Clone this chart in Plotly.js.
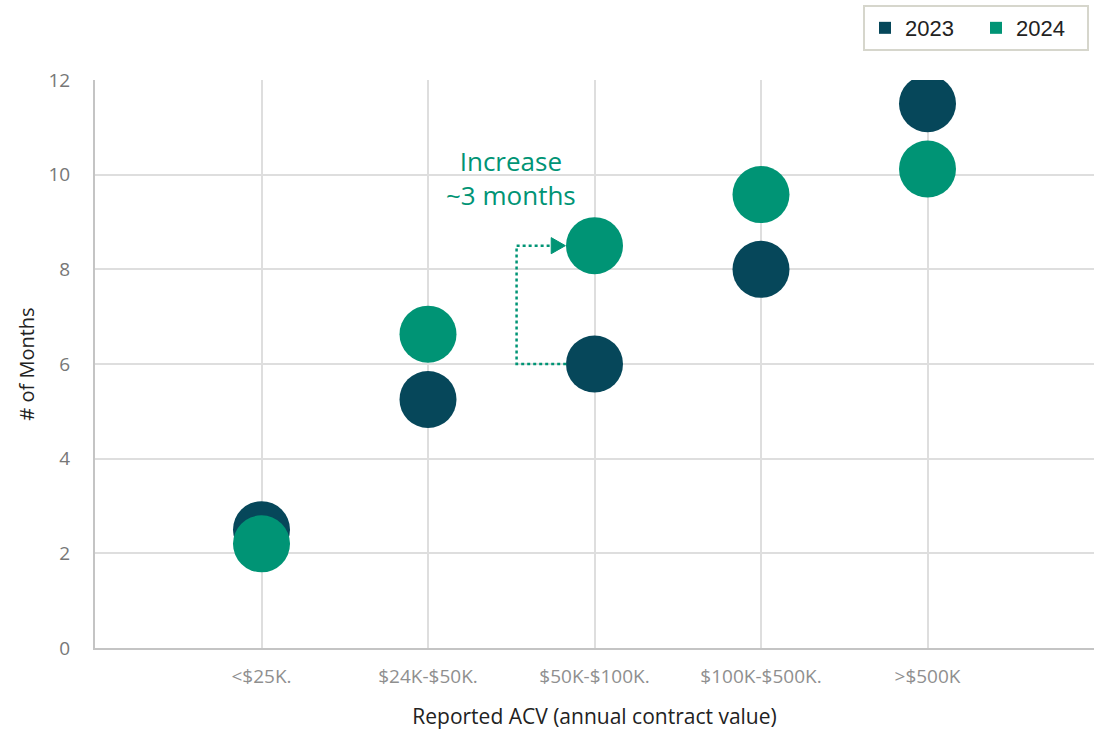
<!DOCTYPE html>
<html>
<head>
<meta charset="utf-8">
<script src="https://cdn.plot.ly/plotly-3.0.1.min.js"></script>
<style>html,body{margin:0;padding:0;background:#fff;}#chart{width:1097px;height:733px;}</style>
</head>
<body>
<div id="chart"></div>
<script>
const categories = ["<$25K.", "$24K-$50K.", "$50K-$100K.", "$100K-$500K.", ">$500K"];
const months2023 = [2.5, 5.25, 6.0, 8.0, 11.5];
const months2024 = [2.2, 6.63, 8.5, 9.58, 10.12];
const seriesNames = ["2023", "2024"];
const colors = ["#06475A", "#009475"];

const xi = categories.map((c, i) => i);
const tickFont = {family: "Open Sans, sans-serif", size: 19, color: "#8f8f8f"};

const traces = [
  {x: xi, y: months2023, type: "scatter", mode: "markers", name: seriesNames[0], showlegend: false,
   marker: {size: 57, color: colors[0]}, hoverinfo: "skip"},
  {x: xi, y: months2024, type: "scatter", mode: "markers", name: seriesNames[1], showlegend: false,
   marker: {size: 57, color: colors[1]}, hoverinfo: "skip"},
  {x: [null], y: [null], type: "scatter", mode: "markers", name: seriesNames[0], showlegend: true,
   marker: {size: 13, symbol: "square", color: colors[0]}},
  {x: [null], y: [null], type: "scatter", mode: "markers", name: seriesNames[1], showlegend: true,
   marker: {size: 13, symbol: "square", color: colors[1]}}
];

const k = 2; // highlighted category
const yLow = months2023[k], yHigh = months2024[k];
const xLeft = k - 0.468, xStartLow = k - 0.17, xArrowBase = k - 0.26, xTip = k - 0.175;

const layout = {
  width: 1097, height: 733,
  margin: {l: 95, r: 3, t: 80, b: 85},
  paper_bgcolor: "#fff", plot_bgcolor: "#fff",
  font: {family: "Open Sans, sans-serif"},
  xaxis: {
    range: [-1, 5], tickmode: "array", tickvals: xi, ticktext: categories,
    tickfont: tickFont, showgrid: true, gridcolor: "#dedede", gridwidth: 2,
    showline: true, linecolor: "#c4c4c4", linewidth: 2, zeroline: false,
    ticks: "", ticklabelstandoff: 10,
    title: {text: "Reported ACV (annual contract value)", font: {family: "Open Sans, sans-serif", size: 21, color: "#222"}, standoff: 22}
  },
  yaxis: {
    range: [0, 12], dtick: 2, tickfont: {family: "Open Sans, sans-serif", size: 19, color: "#777"},
    showgrid: true, gridcolor: "#dedede", gridwidth: 2,
    showline: true, linecolor: "#c4c4c4", linewidth: 2, zeroline: false,
    ticks: "", ticklabelstandoff: 19,
    title: {text: "# of Months", font: {family: "Open Sans, sans-serif", size: 20, color: "#222"}, standoff: 8}
  },
  showlegend: true,
  legend: {
    orientation: "h", x: 0.995, xanchor: "right", y: 1.132, yanchor: "top",
    bordercolor: "#d6d6cc", borderwidth: 2, bgcolor: "#fff",
    font: {family: "Liberation Sans, Arial, sans-serif", size: 22, color: "#222"},
    itemsizing: "constant", entrywidth: 66, entrywidthmode: "pixels"
  },
  shapes: [
    {type: "path", xref: "x", yref: "y",
     path: `M ${xStartLow} ${yLow} L ${xLeft} ${yLow} L ${xLeft} ${yHigh} L ${xArrowBase} ${yHigh}`,
     line: {color: colors[1], width: 2.5, dash: "dot"}, layer: "above"},
    {type: "path", xref: "x", yref: "y",
     path: `M ${xArrowBase} ${yHigh + 0.17} L ${xTip} ${yHigh} L ${xArrowBase} ${yHigh - 0.17} Z`,
     fillcolor: colors[1], line: {color: colors[1], width: 1}}
  ],
  annotations: [
    {xref: "x", yref: "y", x: k - 0.5, y: yHigh + 1.44, text: "Increase<br>~3 months",
     showarrow: false, align: "center",
     font: {family: "Open Sans, sans-serif", size: 26, color: colors[1]}}
  ]
};

Plotly.newPlot("chart", traces, layout, {displayModeBar: false, staticPlot: true});
</script>
</body>
</html>
